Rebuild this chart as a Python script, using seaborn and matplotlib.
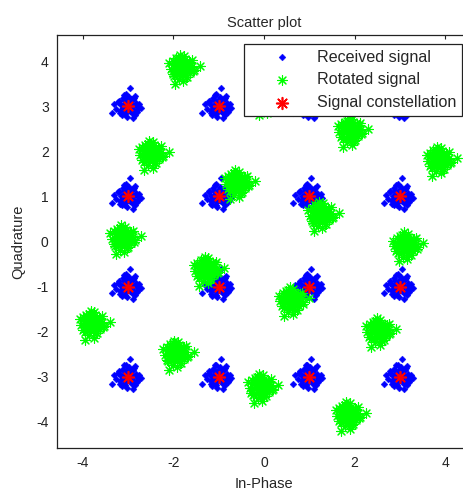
import matplotlib
matplotlib.use("Agg")
import matplotlib.pyplot as plt
import pandas as pd
import seaborn as sns

# 16-QAM constellation points
const_i = [-3, -3, -3, -3, -1, -1, -1, -1, 1, 1, 1, 1, 3, 3, 3, 3]
const_q = [3, 1, -1, -3, 3, 1, -1, -3, 3, 1, -1, -3, 3, 1, -1, -3]

# centres of the rotated clusters (same order)
rot_i = [-3.80, -1.95, -0.08, 1.85, -3.12, -1.28, 0.60, 2.52,
         -2.50, -0.60, 1.25, 3.12, -1.82, 0.03, 1.90, 3.86]
rot_q = [-1.82, -2.48, -3.22, -3.84, 0.08, -0.62, -1.30, -1.98,
         1.95, 1.30, 0.60, -0.08, 3.86, 3.16, 2.46, 1.82]

# scatter of the noisy samples around each cluster centre (estimated)
noise_i = [0.05, -0.12, 0.18, -0.21, 0.09, 0.02, -0.07, 0.14, -0.16, 0.25,
           -0.03, 0.11, -0.26, 0.07, -0.10, 0.20, -0.05, 0.00, 0.13, -0.18,
           0.04, -0.09, 0.16, -0.14, 0.28, -0.22, 0.08, -0.02, 0.10, -0.12,
           0.19, -0.06, 0.03, -0.31, 0.15, -0.08, 0.06, 0.22, -0.17, 0.01,
           0.03, -0.05, 0.07, -0.02, 0.01, -0.08, 0.05, -0.04, 0.10, -0.01,
           0.04, -0.36]
noise_q = [0.10, -0.04, 0.07, 0.12, -0.15, 0.21, -0.18, -0.09, 0.02, 0.05,
           -0.24, 0.16, -0.06, 0.01, 0.13, -0.12, 0.27, -0.08, 0.19, -0.16,
           -0.02, 0.06, 0.23, -0.20, -0.03, 0.09, -0.11, 0.14, -0.27, 0.18,
           0.00, -0.13, 0.08, 0.04, -0.19, 0.25, 0.15, -0.07, -0.10, -0.01,
           -0.04, 0.02, 0.04, -0.07, 0.09, -0.02, -0.10, 0.06, 0.01, -0.01,
           0.40, -0.15]

rx_rows = []
rot_rows = []
for k in range(len(const_i)):
    for dx, dy in zip(noise_i, noise_q):
        rx_rows.append((const_i[k] + dx, const_q[k] + dy))
        rot_rows.append((rot_i[k] + dy, rot_q[k] + dx))
rx = pd.DataFrame(rx_rows, columns=["I", "Q"])
rot = pd.DataFrame(rot_rows, columns=["I", "Q"])
con = pd.DataFrame({"I": const_i, "Q": const_q})

sns.set_style("white")
plt.rcParams["font.family"] = ["Liberation Sans", "DejaVu Sans"]
plt.rcParams["axes.unicode_minus"] = False

fig = plt.figure(figsize=(4.63, 4.97), dpi=100)
ax = fig.add_axes([57 / 463, 49 / 497, 414 / 463, 413 / 497])

asterisk = (8, 2, 0)
sns.scatterplot(data=rx, x="I", y="Q", marker="D", s=12, color="#0000ff",
                edgecolor="#0000ff", linewidth=0.3, label="Received signal", ax=ax)
sns.scatterplot(data=rot, x="I", y="Q", marker=asterisk, s=50, color="#00ff00",
                edgecolor="#00ff00", linewidth=0.8, label="Rotated signal", ax=ax)
sns.scatterplot(data=con, x="I", y="Q", marker=asterisk, s=70, color="#ff0000",
                edgecolor="#ff0000", linewidth=1.2, label="Signal constellation", ax=ax)

ax.set_xlim(-4.57, 4.57)
ax.set_ylim(-4.58, 4.58)
ax.set_xticks([-4, -2, 0, 2, 4])
ax.set_yticks([-4, -3, -2, -1, 0, 1, 2, 3, 4])
ax.tick_params(direction="in", length=3, width=0.8, labelsize=10,
               top=True, right=True, colors="#222222", pad=6)
for sp in ax.spines.values():
    sp.set_color("#222222")
    sp.set_linewidth(0.9)

ax.set_title("Scatter plot", fontsize=10.5, pad=6)
ax.set_xlabel("In-Phase", fontsize=10.5, labelpad=5)
ax.set_ylabel("Quadrature", fontsize=10.5, labelpad=8)

leg = ax.legend(loc="upper right", bbox_to_anchor=(462 / 463, 1 - 44 / 497),
                bbox_transform=fig.transFigure, borderaxespad=0,
                fontsize=11.6, frameon=True, fancybox=False, framealpha=1,
                edgecolor="#222222", handlelength=4.0, handletextpad=0.2,
                labelspacing=0.48, borderpad=0.35, scatterpoints=1)
leg.get_frame().set_linewidth(0.9)

fig.savefig("out.png", dpi=100)
